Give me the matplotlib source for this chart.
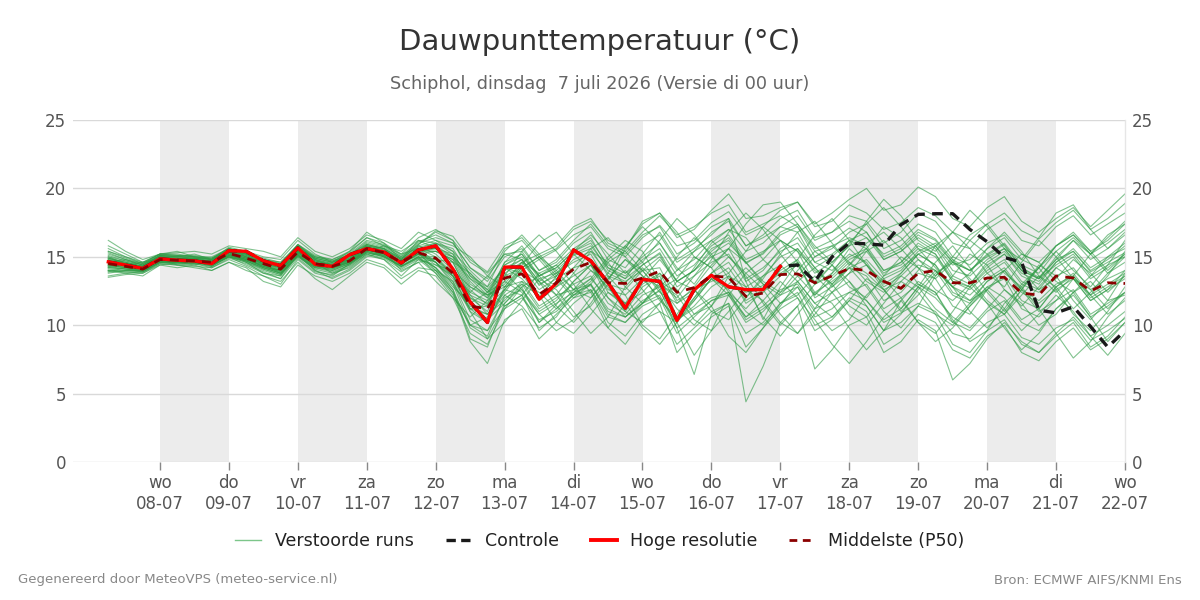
import matplotlib
matplotlib.use("Agg")
import matplotlib.pyplot as plt
from matplotlib.lines import Line2D

plt.rcParams['font.family'] = ['DejaVu Sans']

# ---------------- data ----------------
# time axis: hours after 07-07 00:00, 6-hourly from 07-07 06:00 to 22-07 00:00
start_hour = 6
step_hours = 6

day_names = ["wo", "do", "vr", "za", "zo", "ma", "di", "wo", "do", "vr", "za", "zo", "ma", "di", "wo"]
day_dates = ["08-07", "09-07", "10-07", "11-07", "12-07", "13-07", "14-07", "15-07",
             "16-07", "17-07", "18-07", "19-07", "20-07", "21-07", "22-07"]
shaded_days = ["08-07", "10-07", "12-07", "14-07", "16-07", "18-07", "20-07"]

hoge_resolutie = [14.63, 14.4, 14.15, 14.85, 14.75, 14.7, 14.5, 15.45, 15.4, 14.7, 14.35,
                  15.65, 14.45, 14.3, 15.15, 15.6, 15.35, 14.55, 15.5, 15.8, 14.1, 11.7, 10.2,
                  14.25, 14.25, 11.9, 13.05, 15.5, 14.7, 13.1, 11.25, 13.35, 13.2, 10.35, 12.6,
                  13.65, 12.8, 12.6, 12.6, 14.3]

controle = [14.63, 14.4, 14.15, 14.85, 14.75, 14.7, 14.5, 15.45, 15.4, 14.7, 14.35,
            15.65, 14.45, 14.3, 15.15, 15.6, 15.35, 14.55, 15.5, 15.8, 14.1, 11.7, 10.2,
            14.25, 14.25, 11.9, 13.05, 15.5, 14.7, 13.1, 11.25, 13.35, 13.2, 10.35, 12.6,
            13.65, 12.8, 12.6, 12.6, 14.3, 14.4, 13.2, 15.0, 16.0, 15.95, 15.85, 17.35,
            18.1, 18.15, 18.15, 17.0, 16.1, 14.95, 14.6, 11.1, 10.9, 11.35, 9.9, 8.4, 9.6]

middelste_p50 = [14.5, 14.3, 14.1, 14.8, 14.75, 14.7, 14.6, 15.25, 14.9, 14.5, 14.1, 15.35,
                 14.5, 14.3, 14.7, 15.6, 15.3, 14.6, 15.3, 14.9, 13.8, 11.4, 11.2, 13.45,
                 13.75, 12.25, 13.1, 14.1, 14.6, 13.1, 13.05, 13.45, 13.95, 12.4, 12.75, 13.6,
                 13.5, 12.1, 12.35, 13.7, 13.75, 13.1, 13.6, 14.15, 14.0, 13.2, 12.7, 13.8,
                 14.0, 13.1, 13.1, 13.45, 13.5, 12.35, 12.2, 13.6, 13.45, 12.5, 13.1, 13.05]

verstoorde_runs = [
    [14.7, 14.4, 14.2, 14.9, 14.8, 14.9, 14.6, 15.4, 15.0, 14.5, 14.2, 15.5, 14.6, 14.2, 14.8, 15.7, 15.4, 14.5, 15.5,
     15.8, 15.0, 12.6, 11.5, 14.2, 14.8, 12.9, 13.8, 15.1, 15.6, 13.6, 13.1, 14.4, 15.3, 13.2, 14.0, 15.6, 16.2, 14.5, 15.3,
     16.8, 17.4, 15.6, 16.2, 17.1, 16.4, 15.2, 15.8, 17.0, 16.3, 14.8, 14.0, 15.1, 15.9, 14.2, 13.5, 14.8, 15.4, 13.9, 14.6, 15.3],
    [14.2, 14.1, 13.9, 14.6, 14.5, 14.6, 14.4, 15.0, 14.7, 14.2, 13.8, 15.1, 14.3, 14.1, 14.5, 15.3, 15.1, 14.3, 15.0,
     14.6, 13.2, 10.4, 9.6, 12.0, 12.6, 10.8, 11.6, 12.4, 12.9, 11.0, 10.6, 11.8, 12.5, 10.4, 11.2, 12.0, 12.4, 10.6, 11.4,
     12.6, 13.0, 11.2, 11.8, 12.4, 11.8, 10.2, 10.9, 11.6, 11.0, 9.4, 9.0, 10.2, 10.8, 9.1, 8.6, 9.8, 10.4, 8.9, 9.6, 10.5],
    [15.2, 14.8, 14.4, 15.1, 15.0, 15.1, 14.9, 15.6, 15.3, 14.9, 14.6, 15.9, 15.0, 14.7, 15.2, 16.2, 15.9, 15.1, 16.1,
     16.6, 16.0, 14.2, 13.4, 15.6, 16.2, 14.8, 15.5, 16.6, 17.2, 15.6, 15.0, 16.4, 17.3, 15.8, 16.2, 17.5, 18.3, 16.6, 17.2,
     18.4, 19.0, 17.2, 17.6, 18.8, 18.2, 17.0, 17.5, 18.6, 18.0, 16.8, 16.2, 17.4, 18.2, 16.9, 16.3, 17.5, 18.4, 17.0, 17.8, 18.9],
    [13.8, 14.0, 14.0, 14.6, 14.6, 14.8, 14.3, 15.1, 14.7, 14.1, 13.7, 15.1, 14.0, 13.6, 14.5, 15.4, 15.1, 14.3, 15.0,
     14.2, 12.6, 9.0, 8.4, 11.6, 12.8, 10.2, 11.5, 13.2, 14.4, 12.0, 11.0, 12.8, 13.6, 10.6, 11.8, 13.4, 14.2, 12.4, 12.9,
     13.8, 14.6, 12.2, 13.4, 14.6, 13.8, 12.6, 13.2, 14.4, 14.0, 12.8, 12.2, 13.4, 14.2, 12.6, 11.8, 13.0, 13.6, 12.0, 12.8, 13.6],
    [15.0, 14.5, 14.1, 14.8, 14.9, 14.6, 14.5, 15.3, 15.0, 14.6, 14.3, 15.5, 14.7, 14.4, 14.9, 15.8, 15.6, 14.9, 15.8,
     16.2, 15.4, 13.0, 12.2, 14.6, 15.8, 14.0, 14.6, 16.0, 16.8, 14.8, 14.2, 15.8, 16.6, 14.6, 15.4, 16.8, 17.6, 15.8, 16.4,
     17.2, 16.8, 14.6, 14.0, 15.2, 14.6, 12.8, 13.6, 14.8, 14.0, 12.2, 11.6, 12.8, 13.4, 11.2, 10.6, 11.8, 12.6, 10.8, 11.6, 12.4],
    [14.4, 14.2, 14.0, 14.7, 14.6, 14.5, 14.5, 15.2, 14.8, 14.4, 14.0, 15.3, 14.4, 14.3, 14.6, 15.5, 15.2, 14.7, 15.2,
     14.8, 13.6, 11.0, 10.2, 12.8, 13.2, 11.4, 12.2, 12.6, 13.0, 10.8, 10.2, 11.4, 12.0, 9.4, 10.6, 11.8, 12.2, 10.2, 11.0,
     12.4, 13.2, 11.6, 12.4, 13.8, 14.4, 13.0, 13.8, 15.2, 15.8, 14.4, 14.8, 16.0, 16.6, 15.2, 14.6, 15.8, 16.8, 15.4, 16.2, 17.4],
    [14.6, 14.5, 14.2, 14.9, 14.8, 14.7, 14.7, 15.3, 14.9, 14.5, 14.2, 15.4, 14.6, 14.4, 14.8, 15.6, 15.4, 14.6, 15.4,
     15.4, 14.8, 13.4, 12.2, 12.8, 14.2, 15.0, 14.0, 12.6, 12.0, 13.4, 14.8, 14.0, 12.4, 11.6, 12.8, 14.4, 15.6, 14.6, 13.0,
     12.2, 13.6, 15.0, 15.8, 14.6, 13.2, 12.4, 13.8, 15.2, 14.4, 12.8, 11.8, 12.6, 14.0, 15.2, 14.6, 13.2, 12.4, 13.6, 15.0, 15.6],
    [14.0, 13.9, 13.8, 14.5, 14.4, 14.5, 14.2, 14.9, 14.5, 13.9, 13.4, 14.9, 13.9, 13.7, 14.3, 15.2, 14.9, 14.1, 14.8,
     13.8, 12.4, 8.8, 7.2, 10.4, 11.2, 9.0, 10.2, 11.6, 12.6, 10.2, 9.2, 10.8, 11.6, 8.0, 9.4, 10.6, 11.4, 8.4, 9.8,
     11.2, 12.0, 9.6, 10.4, 11.8, 11.0, 8.6, 9.4, 10.8, 10.2, 8.2, 7.6, 9.2, 10.0, 8.0, 7.4, 8.8, 9.8, 8.2, 9.0, 10.2],
    [15.4, 14.9, 14.5, 15.2, 15.1, 15.0, 14.8, 15.5, 15.2, 14.8, 14.5, 15.8, 14.9, 14.6, 15.1, 16.0, 15.7, 15.0, 15.9,
     16.8, 16.2, 14.6, 13.8, 15.2, 15.4, 13.6, 14.2, 15.4, 16.2, 14.4, 13.8, 15.0, 16.0, 14.0, 14.8, 16.2, 17.0, 15.4, 16.0,
     17.2, 18.0, 16.2, 16.8, 18.0, 17.6, 16.0, 16.8, 18.2, 17.6, 16.0, 15.6, 17.0, 17.8, 16.2, 15.8, 17.2, 18.0, 16.6, 17.4, 18.2],
    [14.3, 14.1, 14.0, 14.7, 14.7, 14.6, 14.5, 15.1, 14.8, 14.3, 14.0, 15.2, 14.3, 14.1, 14.6, 15.5, 15.2, 14.5, 15.2,
     14.2, 12.8, 11.6, 12.4, 13.8, 12.6, 11.0, 11.8, 13.2, 14.4, 13.0, 11.6, 12.4, 13.8, 12.6, 10.8, 11.4, 13.0, 14.2, 13.0,
     11.6, 12.2, 13.6, 12.4, 10.8, 10.0, 11.6, 13.2, 12.4, 10.8, 10.0, 11.4, 12.8, 12.0, 10.4, 11.2, 12.8, 13.6, 12.2, 10.8, 11.8],
    [14.9, 14.6, 14.3, 15.0, 14.9, 14.9, 14.8, 15.4, 15.1, 14.7, 14.3, 15.6, 14.8, 14.5, 14.9, 15.9, 15.6, 14.9, 15.7,
     16.0, 15.6, 13.6, 12.4, 14.4, 15.0, 13.6, 14.4, 15.6, 16.4, 14.2, 13.4, 15.2, 16.8, 14.8, 15.6, 16.6, 17.8, 13.2, 10.4,
     12.8, 14.6, 12.0, 12.8, 14.2, 13.6, 11.8, 12.4, 13.8, 13.4, 11.4, 10.8, 12.6, 13.6, 11.8, 11.2, 12.8, 13.8, 12.2, 13.0, 13.8],
    [13.6, 13.8, 13.9, 14.5, 14.4, 14.3, 14.2, 14.8, 14.3, 13.6, 13.0, 14.8, 13.8, 13.5, 14.1, 15.1, 14.8, 13.9, 14.6,
     13.2, 12.0, 9.4, 8.6, 11.2, 12.0, 10.4, 11.0, 12.2, 13.0, 11.2, 10.6, 11.6, 12.6, 9.8, 6.4, 10.8, 11.6, 4.4, 7.0,
     10.2, 11.4, 6.8, 8.2, 10.0, 10.6, 8.0, 8.8, 10.4, 9.6, 6.0, 7.2, 9.0, 10.2, 8.8, 8.0, 9.4, 10.6, 9.2, 10.0, 11.0],
    [15.1, 14.7, 14.4, 15.0, 15.0, 14.9, 14.7, 15.5, 15.1, 14.6, 14.3, 15.7, 14.9, 14.6, 15.0, 15.9, 15.6, 14.8, 15.9,
     16.9, 16.5, 14.8, 13.9, 15.8, 16.4, 15.0, 15.6, 17.0, 17.6, 16.2, 15.6, 17.4, 18.2, 16.4, 17.0, 18.4, 19.6, 17.8, 18.0,
     18.6, 19.0, 17.4, 18.2, 19.2, 20.0, 18.4, 18.8, 20.1, 19.4, 17.8, 17.2, 18.6, 19.4, 17.6, 16.8, 17.8, 18.6, 17.2, 18.4, 19.6],
    [14.5, 14.4, 14.2, 14.8, 14.7, 14.8, 14.6, 15.3, 14.9, 14.5, 14.1, 15.4, 14.5, 14.3, 14.7, 15.6, 15.3, 14.6, 15.3,
     14.6, 13.4, 11.2, 11.4, 13.8, 14.6, 13.0, 13.6, 14.8, 15.4, 13.8, 13.2, 14.0, 14.2, 11.8, 12.6, 13.2, 13.8, 11.6, 12.4,
     13.6, 14.4, 12.4, 13.2, 14.2, 14.8, 13.4, 14.0, 15.4, 16.0, 14.6, 14.0, 15.0, 15.6, 14.0, 13.4, 14.4, 15.2, 13.6, 14.4, 15.0],
    [14.1, 14.0, 13.9, 14.6, 14.6, 14.6, 14.3, 15.0, 14.6, 14.1, 13.7, 15.1, 14.2, 14.0, 14.5, 15.4, 15.0, 14.3, 14.9,
     14.0, 12.6, 9.8, 9.0, 11.4, 12.2, 9.6, 10.8, 12.0, 12.4, 9.8, 8.6, 10.4, 11.0, 8.6, 9.8, 11.0, 11.6, 9.4, 10.2,
     11.6, 12.4, 10.0, 10.6, 12.0, 11.4, 9.6, 10.2, 11.4, 10.8, 8.6, 8.0, 9.6, 10.4, 8.6, 8.0, 9.2, 10.2, 8.4, 9.2, 10.6],
    [14.8, 14.6, 14.3, 15.0, 14.9, 14.8, 14.7, 15.4, 15.0, 14.6, 14.3, 15.5, 14.7, 14.4, 14.8, 15.7, 15.4, 14.7, 15.5,
     15.4, 14.8, 12.4, 11.8, 14.4, 15.2, 13.4, 13.8, 14.6, 15.2, 13.0, 12.6, 14.0, 15.0, 13.2, 14.0, 15.4, 16.4, 14.6, 15.2,
     16.6, 17.2, 15.4, 15.8, 16.4, 15.8, 14.0, 14.6, 15.8, 15.2, 13.4, 12.8, 14.2, 15.2, 13.8, 13.2, 14.6, 15.4, 14.0, 14.8, 15.8],
    [14.3, 14.2, 14.1, 14.7, 14.6, 14.7, 14.5, 15.2, 14.8, 14.3, 13.9, 15.3, 14.4, 14.2, 14.6, 15.5, 15.2, 14.5, 15.1,
     15.0, 13.6, 12.0, 11.4, 12.6, 14.0, 14.8, 13.4, 12.0, 13.0, 14.6, 15.4, 14.0, 12.6, 13.4, 15.0, 14.2, 12.4, 11.2, 12.6,
     14.4, 15.6, 14.2, 12.8, 13.8, 15.4, 16.2, 14.8, 13.0, 12.2, 13.6, 15.2, 14.4, 12.6, 11.4, 12.8, 14.2, 13.4, 11.8, 12.6, 14.0],
    [15.0, 14.7, 14.4, 15.1, 15.0, 14.9, 14.9, 15.5, 15.2, 14.8, 14.4, 15.6, 14.9, 14.6, 15.0, 15.8, 15.5, 14.8, 15.6,
     15.6, 14.6, 12.0, 11.0, 13.6, 14.2, 12.6, 13.4, 14.2, 14.6, 12.4, 11.4, 13.0, 13.8, 11.6, 12.4, 13.8, 14.6, 12.8, 13.6,
     15.0, 15.6, 13.8, 14.6, 15.8, 16.4, 14.8, 15.4, 16.6, 15.8, 14.0, 13.6, 14.8, 15.6, 14.0, 13.4, 15.0, 16.2, 14.8, 15.6, 16.6],
    [14.6, 14.4, 14.2, 14.8, 14.8, 14.7, 14.6, 15.2, 14.9, 14.4, 14.0, 15.4, 14.5, 14.2, 14.7, 15.6, 15.3, 14.6, 15.3,
     14.4, 14.0, 12.2, 10.8, 11.8, 13.2, 12.4, 11.2, 12.6, 14.0, 12.8, 11.0, 10.2, 11.6, 13.2, 12.6, 11.0, 10.4, 12.0, 13.6,
     14.4, 13.2, 11.6, 10.6, 11.8, 13.4, 12.6, 11.0, 12.2, 13.8, 14.6, 13.4, 11.8, 10.8, 12.2, 13.6, 12.8, 11.2, 12.4, 13.8, 14.6],
    [13.9, 13.9, 13.9, 14.6, 14.5, 14.5, 14.3, 15.0, 14.6, 14.0, 13.6, 15.0, 14.1, 13.8, 14.4, 15.3, 15.0, 14.2, 14.9,
     14.2, 13.0, 10.0, 9.2, 12.2, 13.0, 11.2, 12.0, 13.0, 13.6, 11.6, 10.8, 12.2, 12.8, 10.4, 11.4, 12.8, 13.6, 11.8, 12.6,
     14.0, 14.8, 13.0, 13.8, 15.0, 15.6, 14.0, 14.4, 15.6, 15.0, 13.2, 12.6, 13.8, 14.6, 13.0, 12.4, 13.6, 14.2, 12.6, 13.4, 14.0],
    [15.3, 14.8, 14.4, 15.1, 15.1, 15.0, 14.8, 15.5, 15.2, 14.8, 14.4, 15.8, 15.0, 14.7, 15.1, 16.1, 15.8, 15.0, 16.0,
     16.4, 16.0, 14.2, 13.2, 15.0, 15.6, 14.0, 14.8, 16.2, 17.4, 15.8, 15.2, 16.6, 17.2, 15.2, 16.0, 17.2, 17.8, 15.8, 16.6,
     17.8, 18.4, 16.4, 16.8, 17.6, 16.8, 14.8, 15.4, 16.4, 15.6, 13.6, 13.0, 14.4, 15.2, 13.6, 13.0, 14.6, 15.6, 14.2, 15.0, 16.0],
    [14.4, 14.3, 14.1, 14.8, 14.7, 14.6, 14.5, 15.1, 14.8, 14.3, 13.9, 15.3, 14.4, 14.2, 14.6, 15.5, 15.2, 14.5, 15.2,
     15.4, 15.0, 13.8, 12.4, 13.2, 14.6, 13.8, 12.8, 14.2, 15.6, 16.4, 15.0, 13.6, 12.8, 14.0, 15.4, 16.2, 15.0, 13.8, 14.8,
     16.2, 15.4, 14.0, 13.0, 14.4, 16.0, 16.8, 15.6, 14.2, 13.4, 14.6, 16.2, 15.2, 13.8, 12.8, 14.2, 15.8, 16.6, 15.4, 14.0, 15.2],
    [14.7, 14.5, 14.3, 14.9, 14.8, 14.8, 14.7, 15.3, 14.9, 14.5, 14.2, 15.4, 14.6, 14.3, 14.8, 15.6, 15.3, 14.6, 15.4,
     15.6, 15.2, 13.4, 12.6, 14.2, 13.8, 11.8, 12.8, 13.6, 14.4, 12.6, 12.2, 13.4, 14.8, 13.2, 14.0, 15.0, 15.6, 13.4, 14.2,
     15.4, 16.0, 14.2, 15.0, 16.2, 16.8, 15.0, 15.6, 16.8, 16.2, 14.6, 14.0, 15.2, 16.0, 14.4, 13.8, 15.4, 16.4, 15.2, 16.0, 17.0],
    [14.2, 14.1, 14.0, 14.7, 14.6, 14.6, 14.4, 15.0, 14.7, 14.2, 13.8, 15.2, 14.3, 14.0, 14.5, 15.4, 15.1, 14.4, 15.0,
     13.8, 12.2, 10.0, 10.6, 12.2, 11.4, 9.8, 10.6, 12.4, 13.4, 12.0, 10.6, 11.6, 13.0, 12.2, 10.4, 9.6, 11.0, 12.6, 11.8,
     10.2, 9.4, 10.8, 12.4, 13.2, 11.8, 10.4, 11.2, 12.8, 12.0, 10.6, 9.8, 11.2, 12.6, 11.6, 10.0, 10.8, 12.4, 13.2, 11.8, 12.2],
    [14.9, 14.6, 14.3, 15.0, 15.0, 14.9, 14.8, 15.4, 15.1, 14.6, 14.3, 15.6, 14.8, 14.5, 14.9, 15.8, 15.5, 14.8, 15.6,
     16.0, 15.2, 12.8, 12.0, 14.6, 15.2, 13.6, 14.2, 15.4, 16.0, 14.0, 13.4, 14.4, 15.2, 12.8, 13.6, 14.6, 15.2, 13.2, 14.0,
     15.6, 16.4, 14.6, 15.2, 16.2, 15.6, 13.6, 14.2, 15.2, 14.4, 12.4, 11.8, 13.2, 14.0, 12.4, 11.6, 12.6, 13.4, 11.8, 12.6, 13.4],
    [14.0, 14.0, 14.0, 14.6, 14.6, 14.6, 14.4, 15.1, 14.7, 14.2, 13.8, 15.1, 14.2, 13.9, 14.4, 15.3, 15.0, 14.3, 15.0,
     14.8, 13.8, 11.4, 10.8, 12.6, 14.2, 15.0, 13.6, 12.2, 13.2, 14.8, 15.8, 14.6, 13.0, 12.0, 13.6, 15.2, 16.0, 14.6, 13.2,
     12.4, 14.0, 15.4, 14.4, 12.8, 12.0, 13.6, 15.0, 14.2, 12.6, 11.8, 13.0, 14.6, 15.4, 14.0, 12.6, 13.4, 14.8, 13.8, 12.4, 13.6],
    [15.6, 15.0, 14.5, 15.2, 15.1, 15.0, 14.9, 15.6, 15.2, 14.8, 14.5, 15.9, 15.1, 14.8, 15.3, 16.4, 16.0, 15.2, 16.4,
     17.0, 16.2, 13.6, 12.8, 15.4, 16.6, 15.2, 15.8, 17.2, 17.8, 16.0, 15.4, 16.8, 18.0, 16.6, 17.2, 18.2, 18.8, 16.8, 17.4,
     18.0, 17.2, 15.0, 15.6, 16.8, 17.4, 15.6, 16.2, 17.4, 16.8, 15.0, 14.4, 15.6, 16.4, 14.8, 14.2, 15.8, 16.6, 15.2, 16.4, 17.6],
    [14.5, 14.3, 14.1, 14.8, 14.7, 14.7, 14.5, 15.2, 14.8, 14.4, 14.1, 15.4, 14.5, 14.3, 14.7, 15.6, 15.3, 14.6, 15.3,
     14.0, 12.4, 10.0, 9.6, 11.2, 12.8, 13.6, 12.2, 10.6, 11.4, 13.0, 14.0, 12.6, 11.0, 10.2, 11.8, 13.4, 12.6, 11.0, 10.0,
     11.4, 13.2, 14.2, 13.0, 11.4, 10.6, 12.2, 13.6, 12.8, 11.2, 10.2, 11.6, 13.2, 14.0, 12.6, 11.0, 11.8, 13.4, 12.6, 11.2, 12.4],
    [14.8, 14.5, 14.3, 14.9, 14.9, 14.8, 14.6, 15.3, 15.0, 14.6, 14.2, 15.5, 14.7, 14.4, 14.8, 15.7, 15.4, 14.7, 15.5,
     15.6, 14.6, 12.2, 11.6, 14.0, 14.8, 13.2, 14.0, 15.2, 15.8, 14.2, 13.6, 14.8, 15.6, 13.6, 14.4, 15.8, 16.6, 14.8, 15.4,
     16.2, 15.4, 13.0, 13.6, 14.8, 15.4, 13.8, 14.6, 16.0, 15.2, 13.2, 12.8, 14.0, 14.8, 13.2, 12.6, 14.2, 15.0, 13.4, 14.2, 15.2],
    [14.4, 14.3, 14.1, 14.7, 14.7, 14.6, 14.5, 15.1, 14.8, 14.3, 14.0, 15.3, 14.4, 14.2, 14.6, 15.5, 15.2, 14.5, 15.2,
     14.6, 13.6, 11.2, 10.2, 12.6, 12.2, 10.2, 11.2, 12.2, 12.6, 10.6, 10.2, 11.6, 12.2, 9.8, 10.8, 11.8, 12.4, 10.4, 11.2,
     12.2, 12.8, 10.6, 11.2, 12.4, 13.0, 11.2, 12.0, 13.0, 12.4, 10.2, 9.6, 11.0, 11.8, 10.2, 9.6, 11.2, 12.2, 10.6, 11.4, 12.4],
    [14.9, 14.5, 14.3, 15.1, 15.0, 15.2, 14.8, 15.6, 15.2, 14.4, 13.8, 15.0, 14.2, 14.6, 15.2, 15.9, 15.6, 14.4, 15.8,
     15.2, 14.0, 12.8, 12.2, 13.0, 14.6, 15.2, 13.8, 12.6, 13.4, 15.0, 16.2, 15.4, 13.2, 12.4, 14.2, 16.0, 17.0, 16.4, 14.8,
     13.6, 14.8, 16.6, 17.8, 16.2, 14.4, 13.2, 12.6, 14.0, 15.8, 16.8, 15.6, 13.8, 12.8, 14.6, 16.2, 15.0, 13.4, 12.2, 13.6, 15.4],
    [13.9, 14.2, 14.3, 14.8, 14.4, 14.2, 14.0, 14.6, 14.2, 13.2, 12.8, 14.4, 13.6, 13.2, 13.8, 14.8, 14.4, 13.4, 14.2,
     14.0, 13.2, 11.0, 9.0, 10.2, 11.8, 13.4, 12.6, 11.0, 9.4, 10.6, 12.8, 14.2, 13.0, 11.2, 10.0, 11.4, 13.6, 12.8, 10.6,
     9.2, 10.8, 12.4, 11.6, 9.8, 8.2, 9.6, 11.8, 13.2, 12.4, 10.4, 8.8, 9.6, 11.6, 12.8, 11.2, 9.4, 7.6, 8.8, 10.6, 12.0],
    [15.8, 15.2, 14.6, 15.2, 15.3, 15.4, 15.2, 15.8, 15.6, 15.4, 15.0, 16.4, 15.4, 15.0, 15.6, 16.6, 16.2, 15.6, 16.8,
     16.2, 15.8, 15.0, 13.6, 12.8, 14.4, 16.0, 16.8, 15.2, 14.0, 13.2, 15.6, 17.6, 18.2, 16.8, 15.0, 14.2, 15.6, 17.4, 18.8,
     19.0, 17.4, 15.8, 14.6, 15.8, 17.6, 19.2, 18.0, 16.2, 15.4, 16.8, 18.4, 17.2, 15.6, 14.8, 16.4, 18.2, 18.8, 17.0, 15.6, 16.8],
    [14.2, 14.4, 14.6, 14.9, 14.6, 14.4, 14.8, 15.4, 14.6, 13.8, 13.4, 15.2, 14.0, 13.4, 14.0, 15.0, 15.4, 14.0, 14.6,
     14.8, 14.6, 13.8, 12.6, 11.4, 12.2, 13.8, 14.4, 13.0, 11.2, 9.8, 11.6, 13.4, 12.0, 10.2, 7.8, 9.6, 12.2, 13.8, 12.6,
     10.8, 9.4, 11.2, 13.0, 14.2, 12.8, 11.0, 9.8, 11.4, 13.6, 14.8, 13.2, 11.6, 10.8, 12.6, 14.4, 13.6, 11.8, 10.4, 11.8, 13.8],
    [16.2, 15.4, 14.8, 15.2, 15.4, 15.0, 14.8, 15.7, 15.4, 15.0, 14.8, 16.2, 15.2, 14.6, 15.4, 16.8, 16.0, 14.8, 16.2,
     15.6, 15.0, 13.2, 12.0, 13.6, 15.4, 16.6, 15.4, 13.8, 12.4, 13.8, 15.8, 17.2, 16.0, 14.2, 13.0, 14.8, 16.8, 18.2, 17.0,
     15.2, 13.6, 12.2, 13.8, 15.6, 14.4, 12.6, 11.2, 12.8, 14.6, 15.8, 14.2, 12.4, 11.0, 12.6, 14.2, 15.4, 14.0, 12.8, 14.4, 16.2],
    [13.5, 13.7, 13.8, 14.4, 14.2, 14.4, 14.0, 14.6, 14.0, 13.6, 13.2, 14.6, 13.4, 12.6, 13.6, 14.6, 14.2, 13.0, 14.0,
     13.6, 12.0, 10.6, 11.8, 13.2, 12.4, 10.8, 9.6, 10.4, 12.0, 13.6, 12.2, 10.0, 9.0, 10.8, 12.6, 11.4, 9.2, 8.0, 9.8,
     11.6, 12.8, 11.0, 9.6, 10.4, 12.2, 13.4, 12.0, 10.2, 9.4, 11.0, 12.8, 11.6, 9.8, 8.2, 9.4, 11.2, 12.4, 10.6, 8.8, 10.2],
    [14.6, 14.8, 14.5, 15.0, 14.8, 14.6, 14.4, 15.6, 15.4, 14.8, 14.6, 15.8, 14.8, 14.2, 14.6, 15.4, 15.8, 15.2, 15.6,
     15.0, 13.8, 12.4, 13.6, 15.2, 14.8, 13.2, 12.2, 13.8, 15.4, 14.6, 12.8, 11.6, 13.2, 15.0, 16.4, 15.2, 13.4, 12.0, 13.4,
     15.2, 16.8, 17.6, 16.0, 14.4, 15.6, 17.2, 16.4, 14.8, 13.6, 15.0, 16.6, 17.4, 15.8, 14.2, 13.4, 14.8, 16.2, 15.2, 13.8, 15.0],
    [14.0, 13.8, 13.6, 14.4, 14.6, 14.8, 14.4, 15.0, 14.4, 13.8, 13.6, 15.4, 14.6, 13.8, 14.2, 15.2, 14.8, 13.6, 14.8,
     14.4, 13.6, 11.8, 10.4, 11.6, 13.0, 12.2, 10.2, 9.4, 10.8, 12.4, 11.6, 9.8, 8.6, 10.2, 12.0, 13.4, 12.2, 10.6, 11.8,
     13.2, 12.0, 10.4, 8.6, 7.2, 8.8, 10.6, 11.8, 10.2, 8.8, 9.8, 11.4, 12.6, 11.2, 9.6, 10.8, 12.2, 11.0, 9.2, 7.8, 9.4],
    [15.4, 15.0, 14.6, 15.2, 15.2, 15.0, 15.0, 15.6, 15.0, 14.2, 14.0, 15.6, 15.0, 14.8, 15.4, 16.4, 15.8, 15.4, 16.2,
     16.0, 15.4, 14.0, 12.8, 14.2, 13.4, 12.0, 13.6, 15.4, 16.6, 15.2, 13.8, 14.6, 16.2, 17.8, 16.6, 15.0, 13.8, 15.4, 17.2,
     16.2, 14.6, 13.2, 14.4, 16.0, 17.4, 18.6, 17.2, 15.6, 14.2, 12.8, 13.8, 15.6, 16.8, 15.4, 13.6, 12.4, 13.6, 15.2, 16.6, 17.4],
    [14.4, 14.2, 14.0, 14.7, 14.8, 14.9, 14.6, 15.4, 15.2, 14.6, 14.4, 15.9, 14.8, 14.4, 14.8, 15.8, 15.0, 14.4, 15.6,
     14.6, 13.0, 11.2, 10.8, 12.4, 14.0, 13.2, 11.4, 10.2, 11.6, 13.4, 14.8, 13.6, 11.8, 10.6, 12.0, 13.8, 15.0, 13.6, 11.6,
     10.0, 11.4, 13.0, 14.4, 13.2, 11.4, 9.6, 10.8, 12.6, 14.0, 12.8, 11.0, 9.8, 11.2, 13.0, 14.2, 12.6, 10.8, 9.6, 11.0, 12.8],
]

# ---------------- figure ----------------
fig = plt.figure(figsize=(12, 6), dpi=100)
ax = fig.add_axes([73 / 1200, 1 - 462 / 600, (1125 - 73) / 1200, (462 - 120) / 600])

def hours(n):
    return [start_hour + step_hours * i for i in range(n)]

# alternating day shading
for d in shaded_days:
    k = day_dates.index(d) + 1
    ax.axvspan(24 * k, 24 * (k + 1), color="#ececec", lw=0, zorder=0)

for y in range(0, 26, 5):
    ax.axhline(y, color="#d9d9d9", lw=1, zorder=1)

ens_color = "#2e9b45"
for m in verstoorde_runs:
    ax.plot(hours(len(m)), m, color=ens_color, lw=0.8, alpha=0.6, zorder=2)

ax.plot(hours(len(controle)), controle, color="#1a1a1a", lw=2.4, dashes=(3.2, 2.2), zorder=3)
ax.plot(hours(len(hoge_resolutie)), hoge_resolutie, color="#ff0000", lw=2.4, zorder=4)
ax.plot(hours(len(middelste_p50)), middelste_p50, color="#8b0000", lw=2.0, dashes=(3.2, 2.6), zorder=5)

ax.set_xlim(24 - 87 / (965 / 336), 360)
ax.set_ylim(0, 25)
ax.set_yticks(range(0, 26, 5))
ax.set_xticks([24 * (k + 1) for k in range(len(day_dates))])
ax.set_xticklabels([f"{n}\n{d}" for n, d in zip(day_names, day_dates)])

for s in ["top", "left", "bottom"]:
    ax.spines[s].set_visible(False)
ax.spines["right"].set_color("#e6e6e6")
ax.spines["right"].set_linewidth(1)

ax.tick_params(axis="x", length=6, width=1, color="#888888", labelsize=12, labelcolor="#555555", pad=3)
ax.tick_params(axis="y", length=0, labelsize=12, labelcolor="#555555", pad=5,
               left=False, right=False, labelleft=True, labelright=True)

# titles
fig.text(0.5, 1 - 42 / 600, "Dauwpunttemperatuur (°C)", ha="center", va="center",
         fontsize=21, color="#333333")
fig.text(0.5, 1 - 84 / 600, "Schiphol, dinsdag  7 juli 2026 (Versie di 00 uur)", ha="center",
         va="center", fontsize=12.7, color="#666666")

# legend
handles = [
    Line2D([], [], color="#7cc68a", lw=1),
    Line2D([], [], color="#1a1a1a", lw=2.4, dashes=(2.8, 1.6)),
    Line2D([], [], color="#ff0000", lw=2.8),
    Line2D([], [], color="#8b0000", lw=2.0, dashes=(2.8, 2.0)),
]
labels = ["Verstoorde runs", "Controle", "Hoge resolutie", "Middelste (P50)"]
fig.legend(handles, labels, loc="center", bbox_to_anchor=(0.5, 1 - 541 / 600), ncol=4,
           frameon=False, fontsize=12.5, handlelength=1.5, handletextpad=0.75,
           columnspacing=1.85, labelcolor="#222222")

fig.text(18 / 1200, 1 - 580 / 600, "Gegenereerd door MeteoVPS (meteo-service.nl)", ha="left",
         va="center", fontsize=9.5, color="#888888")
fig.text(1182 / 1200, 1 - 580 / 600, "Bron: ECMWF AIFS/KNMI Ens", ha="right",
         va="center", fontsize=9.5, color="#888888")

fig.savefig("out.png", dpi=100)
